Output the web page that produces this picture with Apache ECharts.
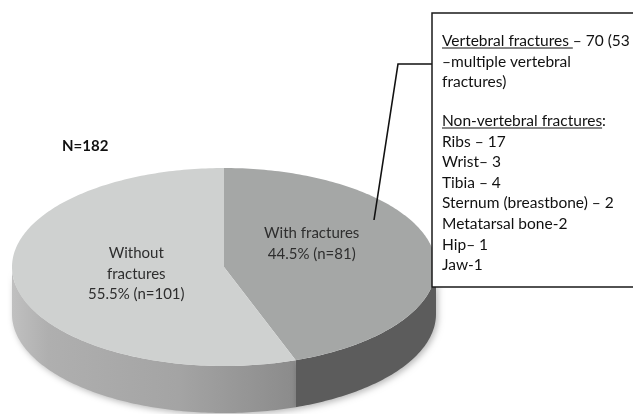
<!DOCTYPE html>
<html>
<head>
<meta charset="utf-8">
<script src="https://cdn.jsdelivr.net/npm/echarts@6/dist/echarts.min.js"></script>
<style>
  html, body { margin: 0; padding: 0; background: #ffffff; }
  #chart { width: 633px; height: 414px; }
</style>
</head>
<body>
<div id="chart"></div>
<script>
// Fracture status of the cohort
const sliceNames = ['With fractures', 'Without fractures'];
const sliceCounts = [81, 101];
const slicePercents = ['44.5%', '55.5%'];
const sliceLabelLines = [['With fractures'], ['Without', 'fractures']];
const totalLabel = 'N=182';

// Breakdown of fracture sites shown in the side box
const vertebralLines = ['Vertebral fractures – 70 (53', '–multiple vertebral', 'fractures)'];
const vertebralHeading = 'Vertebral fractures ';
const nonVertebralHeading = 'Non-vertebral fractures';
const nonVertebralItems = ['Ribs – 17', 'Wrist– 3', 'Tibia – 4', 'Sternum (breastbone) – 2', 'Metatarsal bone-2', 'Hip– 1', 'Jaw-1'];

// Layout and style constants
const PIE = { cx: 224, cy: 267, rx: 212, ry: 99, depth: 47 };
const FONT = 'Lato, "Open Sans", sans-serif';
const FONT_SIZE = 15;
const BOX_FONT_SIZE = 15.5;
const topColors = ['#a5a7a6', '#cfd1d0'];
const labelRadius = 0.42;
const labelShift = [[0, -16], [0, 0]];

const sideFills = [
  '#5c5c5c',
  new echarts.graphic.LinearGradient(PIE.cx - PIE.rx, 0, PIE.cx + 90, 0, [
    { offset: 0, color: '#c0c0c0' },
    { offset: 0.12, color: '#afafaf' },
    { offset: 0.55, color: '#a4a4a4' },
    { offset: 1, color: '#878787' }
  ], true)
];

const total = sliceCounts.reduce((a, b) => a + b, 0);
let acc = 0;
const sliceData = sliceCounts.map((v, i) => {
  const start = acc / total;
  acc += v;
  return { name: sliceNames[i], value: [v, start, acc / total] };
});

function ellipsePoint(t, dy) {
  return [PIE.cx + PIE.rx * Math.sin(t), PIE.cy - PIE.ry * Math.cos(t) + (dy || 0)];
}

function arcPoints(s, e, dy) {
  const n = Math.max(2, Math.ceil((e - s) / (Math.PI / 180)));
  const pts = [];
  for (let k = 0; k <= n; k++) pts.push(ellipsePoint(s + (e - s) * k / n, dy));
  return pts;
}

function renderSlice(params, api) {
  const i = params.dataIndex;
  const a0 = api.value(1) * Math.PI * 2;
  const a1 = api.value(2) * Math.PI * 2;
  const children = [];

  // visible front wall of the slice
  const s = Math.max(a0, Math.PI / 2);
  const e = Math.min(a1, Math.PI * 1.5);
  if (e > s) {
    const upper = arcPoints(s, e, 0);
    const lower = arcPoints(s, e, PIE.depth).reverse();
    children.push({
      type: 'polygon',
      z2: i === 0 ? 2 : 1,
      shape: { points: upper.concat(lower) },
      style: {
        fill: sideFills[i],
        shadowBlur: 6,
        shadowColor: 'rgba(0,0,0,0.28)',
        shadowOffsetX: 2,
        shadowOffsetY: 2
      }
    });
  }

  // top face
  children.push({
    type: 'polygon',
    z2: 5,
    shape: { points: [[PIE.cx, PIE.cy]].concat(arcPoints(a0, a1, 0)) },
    style: { fill: topColors[i] }
  });

  // label
  const mid = (a0 + a1) / 2;
  const lp = [
    PIE.cx + PIE.rx * labelRadius * Math.sin(mid) + labelShift[i][0],
    PIE.cy - PIE.ry * labelRadius * Math.cos(mid) + labelShift[i][1]
  ];
  const text = sliceLabelLines[i].concat([slicePercents[i] + ' (n=' + api.value(0) + ')']).join('\n');
  children.push({
    type: 'text',
    z2: 10,
    x: lp[0],
    y: lp[1],
    style: {
      text: text,
      fill: '#2e2e2e',
      fontFamily: FONT,
      fontSize: FONT_SIZE,
      lineHeight: 20.5,
      align: 'center',
      verticalAlign: 'middle'
    }
  });

  return { type: 'group', children: children };
}

// text width helper for the underlined headings
const measureCtx = document.createElement('canvas').getContext('2d');
function textWidth(str) {
  measureCtx.font = BOX_FONT_SIZE + 'px ' + FONT;
  return measureCtx.measureText(str).width;
}

const BOX = { x: 432, y: 13, w: 212, h: 274, textX: 442 };
const boxTextY = [41, 61.5, 82];
const nonVertY = 121;
const itemStep = 20.6;

const graphics = [];
graphics.push({
  type: 'text', left: 62, top: 139, z: 50,
  style: { text: totalLabel, fill: '#111111', fontFamily: FONT, fontSize: 15, fontWeight: 'bold' }
});
graphics.push({
  type: 'polyline', z: 60,
  shape: { points: [[374, 220], [398, 64], [BOX.x, 64]] },
  style: { stroke: '#111111', lineWidth: 1.6, fill: null }
});
graphics.push({
  type: 'rect', z: 70,
  shape: { x: BOX.x, y: BOX.y, width: BOX.w, height: BOX.h },
  style: { fill: '#ffffff', stroke: '#1a1a1a', lineWidth: 1.5 }
});

function boxLine(str, y) {
  graphics.push({
    type: 'text', z: 80, x: BOX.textX, y: y,
    style: { text: str, fill: '#111111', fontFamily: FONT, fontSize: BOX_FONT_SIZE, verticalAlign: 'middle', align: 'left' }
  });
}
function underline(str, y) {
  const w = textWidth(str);
  graphics.push({
    type: 'line', z: 80,
    shape: { x1: BOX.textX, y1: y + 7, x2: BOX.textX + w, y2: y + 7 },
    style: { stroke: '#111111', lineWidth: 1 }
  });
}

vertebralLines.forEach((t, k) => boxLine(t, boxTextY[k]));
underline(vertebralHeading, boxTextY[0]);
boxLine(nonVertebralHeading + ':', nonVertY);
underline(nonVertebralHeading, nonVertY);
nonVertebralItems.forEach((t, k) => boxLine(t, nonVertY + itemStep * (k + 1)));

const chart = echarts.init(document.getElementById('chart'), null, { renderer: 'canvas' });
chart.setOption({
  backgroundColor: '#ffffff',
  animation: false,
  series: [{
    type: 'custom',
    coordinateSystem: 'none',
    renderItem: renderSlice,
    data: sliceData,
    silent: true
  }],
  graphic: graphics
});
</script>
</body>
</html>
